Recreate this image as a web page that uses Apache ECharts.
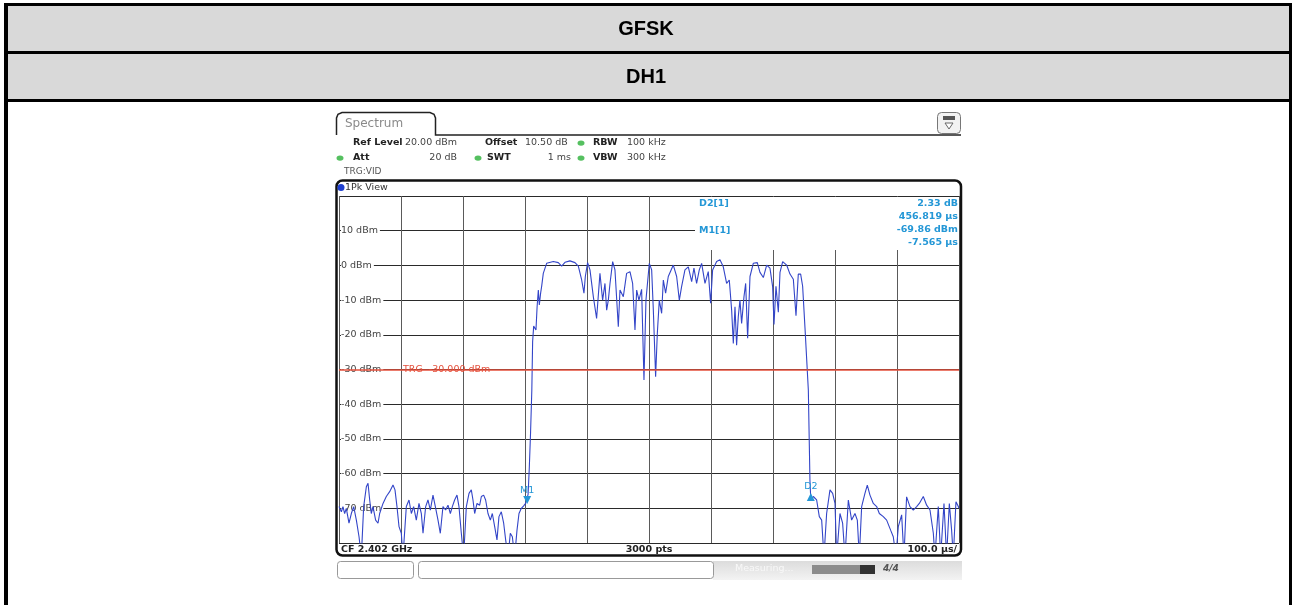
<!DOCTYPE html>
<html>
<head>
<meta charset="utf-8">
<script src="https://cdn.jsdelivr.net/npm/echarts@6/dist/echarts.min.js"></script>
<style>
  html, body { margin: 0; padding: 0; background: #fff; }
  #chart { width: 1292px; height: 605px; }
</style>
</head>
<body>
<div id="chart"></div>
<script>
// table headers
const rowTitles = ['GFSK', 'DH1'];

// trace: time in us from sweep start, level in dBm
const timeUs = [
  0, 3.8, 6.4, 9.1, 11.8, 16.1, 19.9, 23.7, 28, 32.3, 36, 39.8, 44.1, 46.8, 49.5, 52.1, 54.8, 59.1, 62.9, 65.6,
  71, 76.3, 81.7, 87.1, 90.3, 93.5, 96.8, 100.5, 103.2, 108.6, 112.9, 116.7, 120.4, 124.7, 129, 132.8, 135.5, 139.8, 143.5, 147.3,
  151.6, 155.4, 159.7, 163.4, 167.7, 172, 175.8, 179.6, 182.8, 186.5, 190.3, 193.5, 197.3, 201, 205.4, 209.7, 213.4, 216.1, 218.8, 222.6,
  226.9, 229.6, 233.3, 236.5, 240.3, 244.1, 247.3, 251.1, 254.8, 258, 261.8, 265.6, 268.8, 272.6, 276.3, 279.6, 283.3, 287.1, 290.3, 294.1,
  297.8, 301, 303.5, 305, 307, 309, 311, 312.3, 314, 316.1, 317.7, 319.5, 321.5, 323.1, 325.2, 326.8, 329.5, 334.9, 345.7, 353.7,
  359.1, 364.5, 372.5, 380.6, 386, 391.4, 395.1, 397.3, 401, 404.8, 410.2, 415.5, 420.9, 425.2, 429, 431.7, 434.4, 437.1, 441.4, 445.1,
  450.5, 453.2, 458.6, 463.9, 469.3, 473.6, 477.4, 480.1, 483.8, 488.1, 491.9, 495.1, 500.5, 504.3, 507, 510.7, 513.4, 516.6, 520.4, 523.1,
  526.8, 531.1, 539.2, 544.6, 548.9, 552.6, 558, 563.4, 568.8, 572.5, 576.8, 581.1, 584.9, 590.3, 595.6, 599.4, 602.6, 609.1, 614.5, 619.8,
  625.2, 629.5, 633.3, 636, 638.7, 641.3, 644, 646.7, 649.4, 653.2, 655.9, 659.1, 662.9, 668.2, 674.7, 679, 684.4, 689.8, 695.1, 699.4,
  701.6, 704.8, 708.6, 711.3, 715.6, 722, 727.4, 732.8, 737.1, 740.8, 744.6, 747.8, 751.6, 754.3, 757, 758.6, 759.6, 761, 765, 770.4,
  774.7, 778.5, 782.2, 786.5, 791.9, 796.2, 800, 802.7, 808, 812.3, 816.1, 821.5, 826.8, 832.2, 836, 839.2, 843, 848.3, 852.1, 856.4,
  861.8, 867.2, 871.5, 877.9, 883.3, 889.7, 894, 898.3, 902.1, 907.5, 911.2, 915.5, 920.9, 926.3, 931.7, 936, 942.4, 947.8, 953.2, 958.6,
  961.2, 966.6, 970.4, 975.8, 980, 984.4, 988.1, 990.8, 995.1, 998.9, 1000
];
const levelDbm = [
  -69.5, -71, -69.5, -71.5, -70, -74.3, -71.5, -69.5, -73.4, -78.2, -84, -69.5, -63.8, -62.8, -67.6, -71.5, -69.5, -73.4, -74.3, -71.5,
  -68.6, -66.6, -65.2, -63.3, -64.7, -69.5, -75.3, -77.2, -84, -69.5, -67.6, -71.5, -69.5, -73.4, -68.6, -71.5, -77.2, -69.5, -67.6, -70.5,
  -66.2, -69.5, -73.4, -77.2, -69.5, -70.5, -69.1, -71.5, -69.5, -67.6, -66.2, -69.5, -77.2, -84, -69.5, -65.7, -64.7, -67.6, -71.5, -68.6,
  -69.1, -66.6, -66.2, -67.6, -71.5, -73.4, -71.5, -75.3, -79.1, -72.4, -71, -74.3, -79.1, -84, -77.2, -78.2, -84, -76.3, -71.5, -70,
  -69.3, -68.6, -68.5, -66, -58, -48, -36, -22, -17.5, -17.2, -18.6, -12, -7.1, -11.4, -8, -6.1, -2.3, 0.6, 1.1, 0.8,
  -0.2, 0.9, 1.3, 0.8, -0.2, -4.2, -8, -3.2, 0.8, -1.3, -9, -15.3, -2.3, -10, -5.2, -12.9, -10, -5.2, 1.1, -1.3,
  -17.7, -7.1, -9, -2.3, -1.8, -5.2, -18.6, -7.1, -10, -6.9, -33, -10, 0.6, -1.3, -12.9, -32.1, -19.6, -10, -13.8, -4.2,
  -8, -3.2, 0.1, -3.2, -10, -6.1, -1.3, -0.4, -4.7, -0.8, -5.2, -1.3, 0.6, -5.2, -1.8, -10.9, -1.3, 1.1, 1.6, -0.4,
  -5.2, -4.2, -12.9, -22.5, -11.9, -23, -14.8, -10, -16.7, -9, -5.2, -21, -3.2, 0.6, 0.8, -2, -3.5, 0.1, -0.8, -6.1,
  -17, -6, -13.5, -2, 1.1, 0.1, -2.5, -4, -14.5, -2.5, -2.5, -6, -18, -27, -36, -52, -62, -67.6, -66.6, -67.6,
  -72.4, -73.4, -84, -71.5, -64.7, -65.7, -68.6, -84, -71.5, -74.3, -84, -67.6, -73.4, -71.5, -73.4, -84, -69.5, -65.7, -63.3, -66.2,
  -68.6, -69.5, -71.5, -72.4, -73.4, -76.3, -78.2, -84, -75.3, -71.9, -84, -66.7, -69.5, -70.5, -69.5, -68.6, -66.6, -69.1, -70.5, -77.2,
  -84, -69.5, -84, -68.6, -84, -68.6, -76.3, -84, -68.1, -69.5, -70
];

// y axis: reference level 20 dBm, 10 dB/div
const yMin = -80;
const yMax = 20;
const yStep = 10;
// x axis: 100 us/div, 10 divisions
const xMin = 0;
const xMax = 1000;
const xStep = 100;

// markers
const markerNames = ['M1', 'D2'];
const markerTimes = [303.5, 761];
const markerLevels = [-68.5, -67.6];
const trgLevel = -30;

// header / readout texts
const readoutLeft = ['D2[1]', 'M1[1]'];
const readoutRight = ['2.33 dB', '456.819 \u00b5s', '-69.86 dBm', '-7.565 \u00b5s'];

const UI = '"DejaVu Sans", Verdana, sans-serif';
const MK = '#2497d6';
const GREEN = '#55c060';
const TRG = '#e4503c';

const chart = echarts.init(document.getElementById('chart'));

const trace = timeUs.map((t, i) => [t, levelDbm[i]]);

function txt(x, y, text, font, fill, align, z) {
  return {
    type: 'text', x: x, y: y, z: z || 10,
    style: {
      text: text, font: font, fill: fill,
      align: align || 'left', textAlign: align || 'left',
      verticalAlign: 'middle', textVerticalAlign: 'middle'
    }
  };
}
function dot(cx, cy, color) {
  return { type: 'circle', z: 10, scaleY: 0.75, originX: cx, originY: cy, shape: { cx: cx, cy: cy, r: 3.5 }, style: { fill: color } };
}

const graphics = [
  // table
  { type: 'rect', z: 0, shape: { x: 7, y: 6, width: 1282, height: 45 }, style: { fill: '#d9d9d9' } },
  { type: 'rect', z: 0, shape: { x: 7, y: 54, width: 1282, height: 45 }, style: { fill: '#d9d9d9' } },
  { type: 'rect', z: 1, shape: { x: 4, y: 3, width: 1288, height: 3 }, style: { fill: '#000' } },
  { type: 'rect', z: 1, shape: { x: 4, y: 51, width: 1288, height: 3 }, style: { fill: '#000' } },
  { type: 'rect', z: 1, shape: { x: 4, y: 99, width: 1288, height: 3 }, style: { fill: '#000' } },
  { type: 'rect', z: 1, shape: { x: 4, y: 3, width: 4, height: 602 }, style: { fill: '#000' } },
  { type: 'rect', z: 1, shape: { x: 1289, y: 3, width: 3, height: 602 }, style: { fill: '#000' } },
  txt(646, 29, rowTitles[0], 'bold 20px "Liberation Sans", Arial, sans-serif', '#000', 'center'),
  txt(646, 77, rowTitles[1], 'bold 20px "Liberation Sans", Arial, sans-serif', '#000', 'center'),

  // spectrum tab
  { type: 'polyline', z: 10,
    shape: { points: [[336.5, 135], [336.5, 118], [338, 114.2], [342, 112.5], [430, 112.5], [434, 114.2], [435.5, 118], [435.5, 135], [961, 135]] },
    style: { stroke: '#222', lineWidth: 1.5, fill: null } },
  txt(345, 124, 'Spectrum', '12px ' + UI, '#8a8a8a'),
  { type: 'rect', z: 10, shape: { x: 937.5, y: 112.5, width: 23, height: 21, r: 4 },
    style: { fill: '#f2f2f2', stroke: '#777', lineWidth: 1 } },
  { type: 'rect', z: 11, shape: { x: 943, y: 116, width: 12, height: 4 }, style: { fill: '#555' } },
  { type: 'polygon', z: 11, shape: { points: [[945, 123], [953, 123], [949, 129]] }, style: { stroke: '#666', fill: '#fff', lineWidth: 1 } },

  // setting lines
  txt(353, 143, 'Ref Level', 'bold 9.5px ' + UI, '#222'),
  txt(405, 143, '20.00 dBm', '9.5px ' + UI, '#444'),
  txt(485, 143, 'Offset', 'bold 9.5px ' + UI, '#222'),
  txt(525, 143, '10.50 dB', '9.5px ' + UI, '#444'),
  dot(581, 143, GREEN),
  txt(593, 143, 'RBW', 'bold 9.5px ' + UI, '#222'),
  txt(627, 143, '100 kHz', '9.5px ' + UI, '#444'),
  dot(340, 158, GREEN),
  txt(353, 158, 'Att', 'bold 9.5px ' + UI, '#222'),
  txt(457, 158, '20 dB', '9.5px ' + UI, '#444', 'right'),
  dot(478, 158, GREEN),
  txt(487, 158, 'SWT', 'bold 9.5px ' + UI, '#222'),
  txt(571, 158, '1 ms', '9.5px ' + UI, '#444', 'right'),
  dot(581, 158, GREEN),
  txt(593, 158, 'VBW', 'bold 9.5px ' + UI, '#222'),
  txt(627, 158, '300 kHz', '9.5px ' + UI, '#444'),
  txt(344, 172, 'TRG:VID', '9px ' + UI, '#555'),

  // diagram frame
  { type: 'rect', z: 20, shape: { x: 336.5, y: 180.5, width: 624.5, height: 375, r: 6 },
    style: { fill: null, stroke: '#111', lineWidth: 2.5 } },
  { type: 'circle', z: 21, shape: { cx: 341, cy: 187.5, r: 3.5 }, style: { fill: '#1f3fd0' } },
  txt(345, 187.5, '1Pk View', '9.5px ' + UI, '#333', 'left', 21),

  // marker readout block (covers the grid in the upper right)
  { type: 'rect', z: 1, shape: { x: 695, y: 197, width: 264, height: 53 }, style: { fill: '#fff' } },
  txt(699, 204, readoutLeft[0], 'bold 9.5px ' + UI, MK),
  txt(699, 231, readoutLeft[1], 'bold 9.5px ' + UI, MK),
  txt(958, 204, readoutRight[0], 'bold 9.5px ' + UI, MK, 'right'),
  txt(958, 217, readoutRight[1], 'bold 9.5px ' + UI, MK, 'right'),
  txt(958, 230, readoutRight[2], 'bold 9.5px ' + UI, MK, 'right'),
  txt(958, 243, readoutRight[3], 'bold 9.5px ' + UI, MK, 'right'),

  // trigger label
  txt(403, 369.5, 'TRG  -30.000 dBm', '9.5px ' + UI, TRG, 'left', 30),

  // bottom line of the diagram
  txt(341, 549.5, 'CF 2.402 GHz', 'bold 9.5px ' + UI, '#222'),
  txt(649, 549.5, '3000 pts', 'bold 9.5px ' + UI, '#222', 'center'),
  txt(957, 549.5, '100.0 \u00b5s/', 'bold 9.5px ' + UI, '#222', 'right'),

  // status bar
  { type: 'rect', z: 10, shape: { x: 713, y: 561, width: 249, height: 19 },
    style: { fill: new echarts.graphic.LinearGradient(0, 0, 0, 1, [{ offset: 0, color: '#dcdcdc' }, { offset: 1, color: '#f3f3f3' }]) } },
  { type: 'rect', z: 11, shape: { x: 337.5, y: 561.5, width: 76, height: 17, r: 3 }, style: { fill: '#fff', stroke: '#999', lineWidth: 1 } },
  { type: 'rect', z: 11, shape: { x: 418.5, y: 561.5, width: 295, height: 17, r: 3 }, style: { fill: '#fff', stroke: '#999', lineWidth: 1 } },
  txt(735, 569, 'Measuring...', '9.5px ' + UI, '#f8f8f8', 'left', 12),
  { type: 'rect', z: 12, shape: { x: 812, y: 565, width: 48, height: 9 }, style: { fill: '#8c8c8c' } },
  { type: 'rect', z: 12, shape: { x: 860, y: 565, width: 15, height: 9 }, style: { fill: '#333' } },
  txt(883, 569, '4/4', 'italic bold 9px ' + UI, '#555', 'left', 12)
];

const option = {
  animation: false,
  backgroundColor: '#fff',
  grid: { left: 339, top: 196, width: 620, height: 347, containLabel: false },
  xAxis: {
    type: 'value', min: xMin, max: xMax, interval: xStep,
    axisLine: { show: false }, axisTick: { show: false }, axisLabel: { show: false },
    splitLine: { show: true, lineStyle: { color: '#5a5a5a', width: 1 } }
  },
  yAxis: {
    type: 'value', min: yMin, max: yMax, interval: yStep,
    axisLine: { show: false }, axisTick: { show: false },
    splitLine: { show: true, lineStyle: { color: '#2a2a2a', width: 1 } },
    axisLabel: {
      inside: true, margin: 2,
      color: '#444', fontFamily: 'DejaVu Sans', fontSize: 9.5,
      backgroundColor: '#fff', padding: [0, 2, 0, 0],
      formatter: v => (v === yMax || v === yMin) ? '' : v + ' dBm'
    }
  },
  graphic: graphics,
  series: [{
    type: 'line',
    data: trace,
    showSymbol: false,
    clip: true,
    z: 3,
    lineStyle: { color: '#3345c8', width: 1.1 },
    markLine: {
      silent: true, symbol: 'none', z: 4,
      lineStyle: { color: TRG, type: 'solid', width: 1.5, opacity: 1 },
      label: { show: false },
      emphasis: { disabled: true },
      data: [{ yAxis: trgLevel }]
    },
    markPoint: {
      silent: true,
      symbol: 'triangle',
      symbolSize: [8, 8],
      itemStyle: { color: MK },
      label: { show: true, position: 'top', distance: 1, color: MK, fontFamily: 'DejaVu Sans', fontSize: 9.5 },
      data: markerNames.map((n, i) => ({
        name: n, coord: [markerTimes[i], markerLevels[i]], value: n,
        symbolRotate: i === 0 ? 180 : 0,
        symbolOffset: [0, -3],
        label: { formatter: n }
      }))
    }
  }]
};

chart.setOption(option);
</script>
</body>
</html>
